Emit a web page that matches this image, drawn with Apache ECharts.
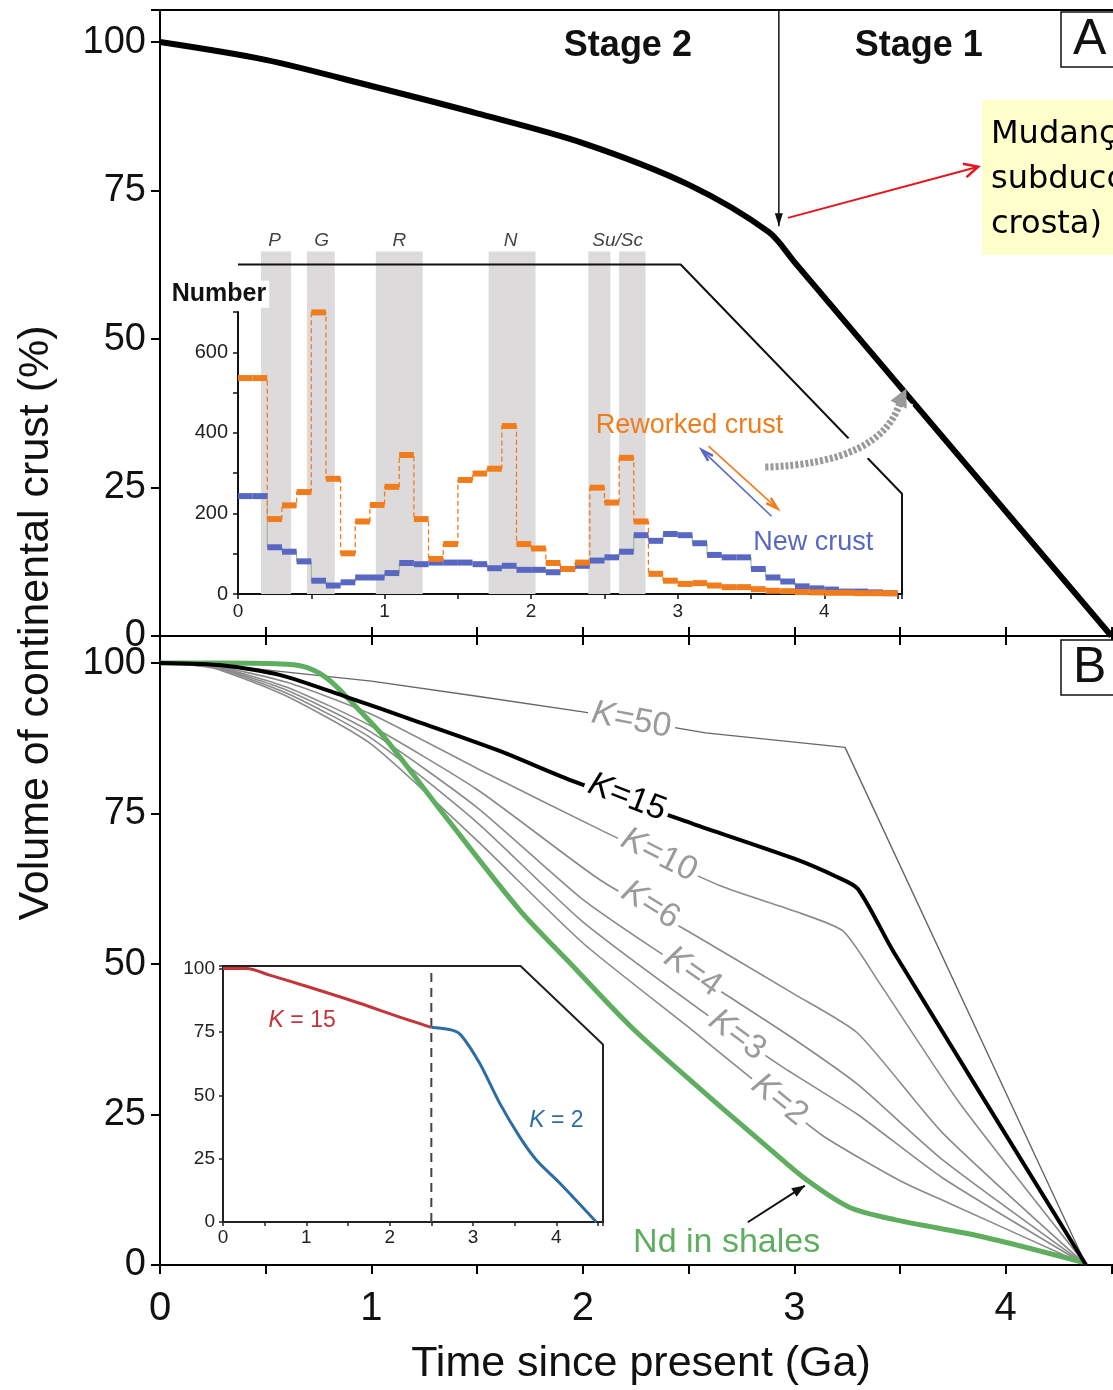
<!DOCTYPE html>
<html>
<head>
<meta charset="utf-8">
<script src="https://cdn.jsdelivr.net/npm/echarts@6/dist/echarts.min.js"></script>
<style>
html, body { margin: 0; padding: 0; background: #fff; }
#main { width: 1113px; height: 1390px; }
</style>
</head>
<body>
<div id="main"></div>
<script>
// ---- panel A: crust volume curve ----
const stageX = [0, 0.5, 1.0, 1.5, 2.0, 2.5, 2.88, 3.0, 4.5];
const stageY = [100, 97, 92.6, 88, 83, 76, 68, 63, 0];

// ---- panel A inset: zircon numbers in 0.1 Ga bins (from 0 to 4.5 Ga) ----
const binWidth = 0.1;
const reworked = [536, 536, 186, 220, 253, 699, 286, 101, 180, 221, 266, 345, 186, 87, 124, 283, 299, 311, 417, 124,
  113, 77, 62, 78, 264, 227, 338, 180, 50, 33, 25, 27, 21, 17, 17, 12, 8, 7, 5, 4, 3, 3, 2, 2, 2];
const newCrust = [243, 243, 116, 105, 81, 33, 21, 29, 41, 41, 52, 77, 74, 78, 78, 78, 74, 64, 70, 60,
  60, 54, 62, 70, 83, 91, 105, 146, 132, 149, 146, 126, 97, 91, 91, 62, 41, 31, 19, 14, 11, 6, 6, 4, 2];
const bandStart = [0.157, 0.47, 0.94, 1.71, 2.39, 2.60];
const bandEnd = [0.362, 0.66, 1.26, 2.03, 2.54, 2.78];
const bandNames = ['P', 'G', 'R', 'N', 'Su/Sc'];
const bandNameX = [0.25, 0.57, 1.10, 1.86, 2.59];

// ---- panel B: model curves ----
const k50 = [[0, 100], [0.25, 99.8], [0.6, 98.5], [1.0, 97], [1.5, 94.5], [2.0, 91.9], [2.58, 88.4], [3.24, 86], [4.38, 0]];
const k15 = [[0, 100], [0.3, 99.6], [0.57, 98], [0.88, 94.4], [1.2, 90.5], [1.6, 85.5], [1.96, 80.3], [2.52, 73.3],
  [3.0, 67.5], [3.2, 64.5], [3.3, 62.5], [3.47, 52], [4.38, 0]];
const k10 = [[0, 100], [0.25, 99.6], [0.6, 96.8], [1.0, 91.5], [1.5, 82.5], [2.1, 72], [2.65, 63], [3.0, 58.8],
  [3.23, 55.5], [3.4, 47], [3.78, 27], [4.38, 0]];
const k6 = [[0, 100], [0.25, 99.5], [0.6, 96], [1.0, 89.5], [1.5, 79], [2.08, 64], [2.52, 55], [3.0, 45],
  [3.3, 38.5], [3.7, 22], [4.38, 0]];
const k4 = [[0, 100], [0.25, 99.4], [0.6, 95.5], [1.0, 88.5], [1.5, 76], [1.99, 61], [2.33, 52.7], [2.73, 43.7],
  [3.0, 37.5], [3.3, 30], [3.7, 17.5], [4.38, 0]];
const k3 = [[0, 100], [0.25, 99.3], [0.6, 95], [1.0, 87.5], [1.5, 73.5], [2.0, 57], [2.57, 42], [2.94, 33],
  [3.3, 25], [3.7, 14.5], [4.38, 0]];
const k2 = [[0, 100], [0.25, 99.2], [0.6, 94.5], [1.0, 86.5], [1.5, 70.5], [2.0, 53.5], [2.5, 39.5], [2.78, 31.5],
  [3.13, 21.6], [3.5, 14], [3.73, 10.3], [4.38, 0]];
const ndShales = [[0, 100], [0.3, 100], [0.6, 99.8], [0.7, 99.2], [0.8, 97.2], [0.92, 93], [1.06, 87.7], [1.35, 74.5],
  [1.7, 59], [1.93, 50.5], [2.23, 39.5], [2.56, 29.1], [2.89, 19.1], [3.06, 14.1], [3.26, 9.6], [3.48, 7.5],
  [3.89, 4.7], [4.36, 0.5]];

// ---- panel B inset ----
const insetK15 = [[0, 100], [0.28, 100], [0.56, 97.4], [1.0, 93], [1.64, 86.3], [2.05, 81.6], [2.5, 76.8]];
const insetK2 = [[2.5, 76.8], [2.76, 75.6], [2.86, 73.6], [3.08, 62.6], [3.32, 46.9], [3.56, 33.6], [3.76, 24.5],
  [4.04, 15.4], [4.48, 0]];
const insetSplit = 2.5;

const FONT = "'Liberation Sans', Arial, sans-serif";
const ORANGE = '#f07c1c';
const BLUE = '#5868c2';

const chart = echarts.init(document.getElementById('main'));

function stepBins(values) {
	return values.map((v, i) => [i * binWidth, (i + 1) * binWidth, v]);
}
function stepLine(values) {
	const pts = values.map((v, i) => [i * binWidth, v]);
	pts.push([values.length * binWidth, values[values.length - 1]]);
	return pts;
}
function thickSteps(color, values) {
	return {
		type: 'custom', xAxisIndex: 3, yAxisIndex: 2, z: 4,
		data: stepBins(values),
		renderItem(params, api) {
			const a = api.coord([api.value(0), api.value(2)]);
			const b = api.coord([api.value(1), api.value(2)]);
			return { type: 'line', shape: { x1: a[0], y1: a[1], x2: b[0], y2: b[1] }, style: { stroke: color, lineWidth: 6 } };
		}
	};
}
const intLabel = v => (Math.abs(v - Math.round(v)) < 1e-6 ? String(Math.round(v)) : '');
const stepLabel = s => v => (Math.abs(v % s) < 1e-6 ? String(v) : '');

const axisLineBlack = { show: true, lineStyle: { color: '#000', width: 2 } };

const kCurves = [
	{ data: k50, color: '#666', width: 1.4, smooth: false },
	{ data: k10, color: '#8a8a8a', width: 1.6, smooth: 0.2 },
	{ data: k6, color: '#8a8a8a', width: 1.6, smooth: 0.2 },
	{ data: k4, color: '#8a8a8a', width: 1.6, smooth: 0.2 },
	{ data: k3, color: '#8a8a8a', width: 1.6, smooth: 0.2 },
	{ data: k2, color: '#8a8a8a', width: 1.6, smooth: 0.2 }
];

const series = [];
series.push({
	type: 'line', xAxisIndex: 0, yAxisIndex: 0, data: stageX.map((x, i) => [x, stageY[i]]),
	smooth: 0.3, symbol: 'none', lineStyle: { color: '#000', width: 6 }, z: 3
});
kCurves.forEach(c => series.push({
	type: 'line', xAxisIndex: 1, yAxisIndex: 1, data: c.data, smooth: c.smooth, symbol: 'none',
	lineStyle: { color: c.color, width: c.width }, z: 3
}));
series.push({
	type: 'line', xAxisIndex: 1, yAxisIndex: 1, data: ndShales, smooth: 0.3, symbol: 'none',
	lineStyle: { color: '#5fae5f', width: 5 }, z: 4
});
series.push({
	type: 'line', xAxisIndex: 1, yAxisIndex: 1, data: k15, smooth: 0.25, symbol: 'none',
	lineStyle: { color: '#000', width: 4 }, z: 5
});
// inset A bands
series.push({
	type: 'custom', xAxisIndex: 3, yAxisIndex: 2, clip: false, z: 1,
	data: bandStart.map((s, i) => [s, bandEnd[i]]),
	renderItem(params, api) {
		const p0 = api.coord([api.value(0), 0]);
		const p1 = api.coord([api.value(1), 850]);
		return { type: 'rect', shape: { x: p0[0], y: p1[1], width: p1[0] - p0[0], height: p0[1] - p1[1] }, style: { fill: '#dcdada' } };
	}
});
series.push({
	type: 'line', xAxisIndex: 3, yAxisIndex: 2, data: stepLine(newCrust), step: 'end', symbol: 'none',
	lineStyle: { color: '#8fb48a', width: 1 }, z: 3
});
series.push({
	type: 'line', xAxisIndex: 3, yAxisIndex: 2, data: stepLine(reworked), step: 'end', symbol: 'none',
	lineStyle: { color: ORANGE, width: 1.3, type: [5, 3] }, z: 3
});
series.push(thickSteps(BLUE, newCrust));
series.push(thickSteps(ORANGE, reworked));
// inset A frame
series.push({
	type: 'line', xAxisIndex: 3, yAxisIndex: 2, clip: false, symbol: 'none', z: 2,
	data: [[0, 818], [3.02, 818], [4.53, 249], [4.53, 0]],
	lineStyle: { color: '#111', width: 2 }
});
// inset B
series.push({
	type: 'line', xAxisIndex: 4, yAxisIndex: 3, clip: false, symbol: 'none', z: 2,
	data: [[0, 101], [3.57, 101], [4.56, 70], [4.56, 0]],
	lineStyle: { color: '#222', width: 2 }
});
series.push({
	type: 'line', xAxisIndex: 4, yAxisIndex: 3, symbol: 'none', z: 2,
	data: [[insetSplit, 0], [insetSplit, 100]],
	lineStyle: { color: '#444', width: 2, type: [9, 6] }
});
series.push({
	type: 'line', xAxisIndex: 4, yAxisIndex: 3, data: insetK15, smooth: 0.3, symbol: 'none',
	lineStyle: { color: '#c4353a', width: 3 }, z: 4
});
series.push({
	type: 'line', xAxisIndex: 4, yAxisIndex: 3, data: insetK2, smooth: 0.3, symbol: 'none',
	lineStyle: { color: '#2e6da4', width: 3 }, z: 4
});

const option = {
	backgroundColor: '#fff',
	animation: false,
	grid: [
		{ left: 160, top: 10, width: 962, height: 626, show: true, borderColor: '#000', borderWidth: 2, outerBoundsMode: 'none', containLabel: false },
		{ left: 160, top: 636, width: 962, height: 629, outerBoundsMode: 'none', containLabel: false },
		{ left: 238, top: 312, width: 664, height: 282, outerBoundsMode: 'none', containLabel: false },
		{ left: 223, top: 966, width: 380, height: 256, outerBoundsMode: 'none', containLabel: false }
	],
	xAxis: [
		{
			gridIndex: 0, type: 'value', min: 0, max: 4.55, interval: 0.5,
			axisLine: axisLineBlack, axisTick: { inside: true, length: 9, lineStyle: { color: '#000', width: 2 } },
			axisLabel: { show: false }, splitLine: { show: false }
		},
		{
			gridIndex: 1, type: 'value', position: 'bottom', min: 0, max: 4.55, interval: 0.5,
			axisLine: axisLineBlack, axisTick: { length: 9, lineStyle: { color: '#000', width: 2 } },
			axisLabel: { fontSize: 40, fontFamily: FONT, color: '#111', margin: 24, formatter: intLabel },
			splitLine: { show: false },
			name: 'Time since present (Ga)', nameLocation: 'middle', nameGap: 78,
			nameTextStyle: { fontSize: 43, fontFamily: FONT, color: '#111' }
		},
		{
			gridIndex: 1, type: 'value', position: 'top', min: 0, max: 4.55, interval: 0.5,
			axisLine: axisLineBlack, axisTick: { inside: true, length: 9, lineStyle: { color: '#000', width: 2 } },
			axisLabel: { show: false }, splitLine: { show: false }
		},
		{
			gridIndex: 2, type: 'value', min: 0, max: 4.53, interval: 0.5,
			axisLine: { show: true, lineStyle: { color: '#111', width: 2 } },
			axisTick: { length: 5, lineStyle: { color: '#111', width: 1.5 } },
			axisLabel: { fontSize: 19, fontFamily: FONT, color: '#222', margin: 8, formatter: intLabel },
			splitLine: { show: false }
		},
		{
			gridIndex: 3, type: 'value', min: 0, max: 4.56, interval: 0.5,
			axisLine: { show: true, lineStyle: { color: '#222', width: 2 } },
			axisTick: { length: 4, lineStyle: { color: '#222', width: 1.5 } },
			axisLabel: { fontSize: 19, fontFamily: FONT, color: '#222', margin: 6, formatter: intLabel },
			splitLine: { show: false }
		}
	],
	yAxis: [
		{
			gridIndex: 0, type: 'value', min: 0, max: 105.4, interval: 25,
			axisLine: axisLineBlack, axisTick: { length: 9, lineStyle: { color: '#000', width: 2 } },
			axisLabel: { fontSize: 38, fontFamily: FONT, color: '#111', margin: 14, formatter: stepLabel(25) },
			splitLine: { show: false }
		},
		{
			gridIndex: 1, type: 'value', min: 0, max: 104.5, interval: 25,
			axisLine: axisLineBlack, axisTick: { length: 9, lineStyle: { color: '#000', width: 2 } },
			axisLabel: { fontSize: 38, fontFamily: FONT, color: '#111', margin: 14, formatter: stepLabel(25) },
			splitLine: { show: false }
		},
		{
			gridIndex: 2, type: 'value', min: 0, max: 700, interval: 100,
			axisLine: { show: true, lineStyle: { color: '#111', width: 2 } },
			axisTick: { length: 5, lineStyle: { color: '#111', width: 1.5 } },
			axisLabel: { fontSize: 20, fontFamily: FONT, color: '#222', margin: 10, formatter: stepLabel(200) },
			splitLine: { show: false }
		},
		{
			gridIndex: 3, type: 'value', min: 0, max: 101, interval: 25,
			axisLine: { show: true, lineStyle: { color: '#222', width: 2 } },
			axisTick: { length: 4, lineStyle: { color: '#222', width: 1.5 } },
			axisLabel: { fontSize: 19, fontFamily: FONT, color: '#222', margin: 8, formatter: stepLabel(25) },
			splitLine: { show: false }
		}
	],
	series: series
};
chart.setOption(option);

// ---- annotations, placed through the axes ----
const pA = (x, y) => chart.convertToPixel({ xAxisIndex: 0, yAxisIndex: 0 }, [x, y]);
const pB = (x, y) => chart.convertToPixel({ xAxisIndex: 1, yAxisIndex: 1 }, [x, y]);
const pIA = (x, y) => chart.convertToPixel({ xAxisIndex: 3, yAxisIndex: 2 }, [x, y]);
const pIB = (x, y) => chart.convertToPixel({ xAxisIndex: 4, yAxisIndex: 3 }, [x, y]);

function text(p, str, o) {
	o = o || {};
	const style = {
		text: str, fill: o.color || '#111',
		fontSize: o.size || 20, fontFamily: o.family || FONT, fontWeight: o.weight || 'normal',
		fontStyle: o.italic ? 'italic' : 'normal',
		align: o.align || 'center', verticalAlign: 'middle',
		textAlign: o.align || 'center', textVerticalAlign: 'middle'
	};
	if (o.rich) style.rich = o.rich;
	if (o.bg) { style.backgroundColor = o.bg; style.padding = o.pad || [0, 3]; }
	return { type: 'text', x: p[0], y: p[1], rotation: (o.rot || 0) * Math.PI / 180, z: o.z || 60, style: style };
}
function line(a, b, color, w, dash) {
	return { type: 'line', z: 55, shape: { x1: a[0], y1: a[1], x2: b[0], y2: b[1] }, style: { stroke: color, lineWidth: w, lineDash: dash || null } };
}
function head(tip, from, len, halfW, color, open) {
	const dx = tip[0] - from[0], dy = tip[1] - from[1], d = Math.hypot(dx, dy);
	const ux = dx / d, uy = dy / d;
	const bx = tip[0] - ux * len, by = tip[1] - uy * len;
	const pts = [[bx - uy * halfW, by + ux * halfW], tip, [bx + uy * halfW, by - ux * halfW]];
	return open
		? { type: 'polyline', z: 56, shape: { points: pts }, style: { stroke: color, lineWidth: 2.5, fill: null } }
		: { type: 'polygon', z: 56, shape: { points: pts }, style: { fill: color } };
}
const kRich = (size, color) => ({ i: { fontStyle: 'italic', fontSize: size, fontFamily: FONT, fill: color } });

const g = [];
// axis title on the left
g.push(text([36, 623], 'Volume of continental crust (%)', { size: 43, rot: 90 }));
// panel A labels
g.push(text(pA(2.213, 99.3), 'Stage 2', { size: 36, weight: 'bold' }));
g.push(text(pA(3.589, 99.3), 'Stage 1', { size: 36, weight: 'bold' }));
const vTop = pA(2.927, 105.4), vTip = pA(2.927, 69.0);
g.push(line(vTop, vTip, '#111', 1.5));
g.push(head(vTip, vTop, 13, 4, '#111', false));
const rFrom = pA(2.97, 70.4), rTip = pA(3.87, 79.0);
g.push(line(rFrom, rTip, '#e8141c', 2));
g.push(head(rTip, rFrom, 14, 7, '#e8141c', true));
g.push({ type: 'rect', z: 50, shape: { x: 982, y: 100, width: 200, height: 155 }, style: { fill: '#ffffcc' } });
['Mudança de', 'subducção da', 'crosta)'].forEach((s, i) => {
	g.push(text([991, 135 + i * 45], s, { size: 32, family: "'DejaVu Sans', sans-serif", align: 'left', color: '#000' }));
});
// panel letters
[[12, 'A'], [640, 'B']].forEach(([top, letter]) => {
	g.push({ type: 'rect', z: 50, shape: { x: 1061, y: top, width: 80, height: 55 }, style: { fill: '#fff', stroke: '#111', lineWidth: 1.5 } });
	g.push(text([1073, top + 28], letter, { size: 50, align: 'left', color: '#111' }));
});
// inset A labels
g.push(text(pIA(-0.13, 744), 'Number', { size: 25, weight: 'bold', bg: '#fff', pad: [1, 3] }));
bandNames.forEach((n, i) => g.push(text(pIA(bandNameX[i], 878), n, { size: 19, italic: true, color: '#444' })));
g.push(text(pIA(3.08, 419), 'Reworked crust', { size: 27, color: ORANGE }));
g.push(text(pIA(3.925, 127), 'New crust', { size: 27, color: BLUE }));
const oFrom = pIA(3.21, 367), oTip = pIA(3.68, 212);
g.push(line(oFrom, oTip, ORANGE, 1.6));
g.push(head(oTip, oFrom, 12, 3.5, ORANGE, true));
const bFrom = pIA(3.64, 193), bTip = pIA(3.165, 357);
g.push(line(bFrom, bTip, BLUE, 1.6));
g.push(head(bTip, bFrom, 12, 3.5, BLUE, true));
const gs = pIA(3.597, 315), gc = pIA(4.40, 325), ge = pIA(4.52, 480);
g.push({ type: 'bezierCurve', z: 54, shape: { x1: gs[0], y1: gs[1], cpx1: gc[0], cpy1: gc[1], x2: ge[0], y2: ge[1] }, style: { stroke: '#fff', lineWidth: 26, fill: null } });
g.push({ type: 'bezierCurve', z: 55, shape: { x1: gs[0], y1: gs[1], cpx1: gc[0], cpy1: gc[1], x2: ge[0], y2: ge[1] }, style: { stroke: '#9a9a9a', lineWidth: 7, lineDash: [3, 2], fill: null } });
const gTip = pIA(4.56, 510);
g.push(head(gTip, ge, 18, 9, '#9a9a9a', false));
// panel B K labels
const kLabels = [
	{ t: '=50', x: 2.23, y: 90.5, rot: -11, c: '#9b9b9b' },
	{ t: '=15', x: 2.21, y: 77.7, rot: -21, c: '#000' },
	{ t: '=10', x: 2.36, y: 68.1, rot: -27, c: '#9b9b9b' },
	{ t: '=6', x: 2.32, y: 59.8, rot: -32, c: '#9b9b9b' },
	{ t: '=4', x: 2.52, y: 48.7, rot: -35, c: '#9b9b9b' },
	{ t: '=3', x: 2.73, y: 38.2, rot: -37, c: '#9b9b9b' },
	{ t: '=2', x: 2.93, y: 27.4, rot: -39, c: '#9b9b9b' }
];
kLabels.forEach(k => {
	g.push(text(pB(k.x, k.y), '{i|K}' + k.t, { size: 34, color: k.c, rot: k.rot, bg: '#fff', pad: [0, 4], rich: kRich(34, k.c) }));
});
g.push(text(pB(2.68, 3.65), 'Nd in shales', { size: 34, color: '#5fae5f' }));
const nFrom = pB(2.78, 7.1), nTip = pB(3.05, 13.2);
g.push(line(nFrom, nTip, '#111', 2));
g.push(head(nTip, nFrom, 13, 5, '#111', false));
// inset B labels
g.push(text(pIB(0.95, 79.5), '{i|K} = 15', { size: 23, color: '#c4353a', rich: kRich(23, '#c4353a') }));
g.push(text(pIB(4.0, 40), '{i|K} = 2', { size: 23, color: '#2e6da4', rich: kRich(23, '#2e6da4') }));

chart.setOption({ graphic: { elements: g } });
</script>
</body>
</html>
